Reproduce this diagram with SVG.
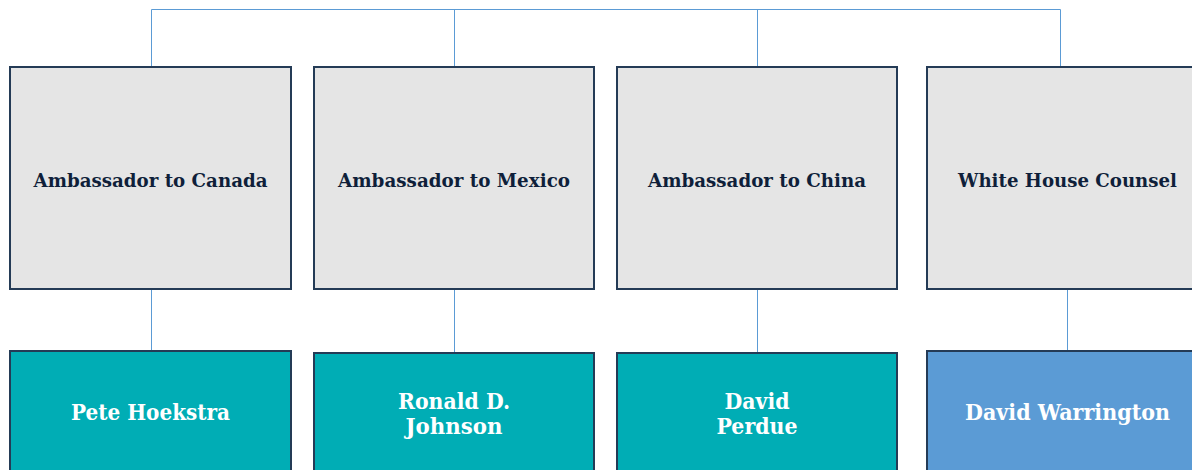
<svg xmlns="http://www.w3.org/2000/svg" width="1192" height="470" viewBox="0 0 1192 470">
<style>
.pos{fill:#e5e5e5;stroke:#243b56;stroke-width:2}
.teal{fill:#00adb5;stroke:#243b56;stroke-width:2}
.blue{fill:#5b9bd5;stroke:#243b56;stroke-width:2}
.lt{font-family:"DejaVu Serif","Liberation Serif",serif;font-weight:bold;font-size:19px;fill:#0f1f3a;text-anchor:middle}
.nm{font-family:"DejaVu Serif","Liberation Serif",serif;font-weight:bold;font-size:22px;fill:#ffffff;text-anchor:middle}
.c{fill:none;stroke:#5b9bd5;stroke-width:1}
</style>
<rect width="1192" height="470" fill="#ffffff"/>
<g id="connectors">
<path class="c" d="M151.5,66 V9.5 H1060.5 V66"/>
<path class="c" d="M454.5,9.5 V66"/>
<path class="c" d="M757.5,9.5 V66"/>
<path class="c" d="M151.5,290 V351"/>
<path class="c" d="M454.5,290 V353"/>
<path class="c" d="M757.5,290 V353"/>
<path class="c" d="M1067.5,290 V351"/>
</g>
<g id="pos-canada"><rect class="pos" x="10" y="67" width="281" height="222"/><text class="lt" x="150.5" y="187" textLength="234" lengthAdjust="spacingAndGlyphs">Ambassador to Canada</text></g>
<g id="pos-mexico"><rect class="pos" x="314" y="67" width="280" height="222"/><text class="lt" x="454" y="187" textLength="232" lengthAdjust="spacingAndGlyphs">Ambassador to Mexico</text></g>
<g id="pos-china"><rect class="pos" x="617" y="67" width="280" height="222"/><text class="lt" x="757" y="187" textLength="218" lengthAdjust="spacingAndGlyphs">Ambassador to China</text></g>
<g id="pos-counsel"><rect class="pos" x="927" y="67" width="281" height="222"/><text class="lt" x="1067.5" y="187" textLength="219" lengthAdjust="spacingAndGlyphs">White House Counsel</text></g>
<g id="nm-hoekstra"><rect class="teal" x="10" y="351" width="281" height="130"/><text class="nm" x="150.5" y="420" textLength="159" lengthAdjust="spacingAndGlyphs">Pete Hoekstra</text></g>
<g id="nm-johnson"><rect class="teal" x="314" y="353" width="280" height="130"/><text class="nm" x="454" y="409" textLength="112" lengthAdjust="spacingAndGlyphs">Ronald D.</text><text class="nm" x="454" y="434" textLength="97" lengthAdjust="spacingAndGlyphs">Johnson</text></g>
<g id="nm-perdue"><rect class="teal" x="617" y="353" width="280" height="130"/><text class="nm" x="757" y="409" textLength="65" lengthAdjust="spacingAndGlyphs">David</text><text class="nm" x="757" y="434" textLength="81" lengthAdjust="spacingAndGlyphs">Perdue</text></g>
<g id="nm-warrington"><rect class="blue" x="927" y="351" width="281" height="130"/><text class="nm" x="1067.5" y="420" textLength="205" lengthAdjust="spacingAndGlyphs">David Warrington</text></g>
</svg>
